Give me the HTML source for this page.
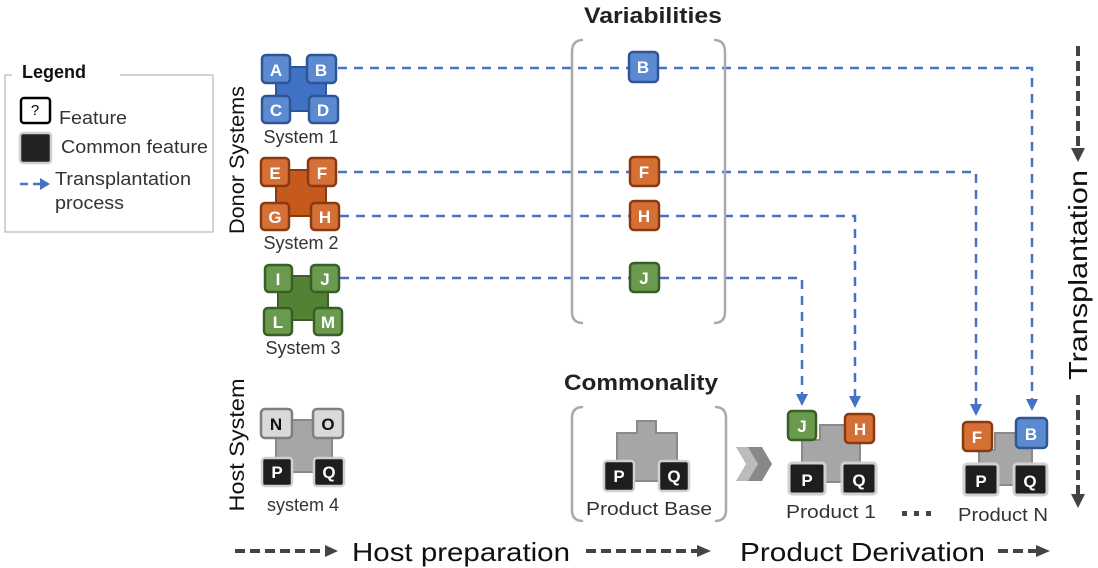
<!DOCTYPE html>
<html><head><meta charset="utf-8"><style>
html,body{margin:0;padding:0;background:#fff;}
svg{display:block;font-family:"Liberation Sans",sans-serif;}
.t{font-weight:bold;fill:#fff;font-size:17px;text-anchor:middle;}
.lb{font-size:18px;fill:#333;text-anchor:middle;}
</style></head><body>
<svg width="1098" height="568" viewBox="0 0 1098 568" xmlns="http://www.w3.org/2000/svg">
<defs>
<marker id="ab" markerWidth="12" markerHeight="12" refX="6" refY="6" orient="auto" markerUnits="userSpaceOnUse"><path d="M0,0 L12,6 L0,12 z" fill="#4472c4"/></marker>
</defs>

<!-- Legend -->
<rect x="5" y="75" width="208" height="157" fill="#fff" stroke="#aaa" stroke-width="1"/>
<rect x="12" y="62" width="108" height="22" fill="#fff"/>
<text x="22" y="78" font-size="18" font-weight="bold" fill="#111">Legend</text>
<rect x="21" y="98" width="29" height="25" rx="3" fill="#fff" stroke="#000" stroke-width="2.5"/>
<text x="35" y="115" font-size="15" text-anchor="middle" fill="#000">?</text>
<text x="59" y="124" font-size="18" fill="#333" textLength="68" lengthAdjust="spacingAndGlyphs">Feature</text>
<rect x="20" y="133" width="31" height="30" rx="3" fill="#222" stroke="#d0d0d0" stroke-width="2.5"/>
<text x="61" y="153" font-size="18" fill="#333" textLength="147" lengthAdjust="spacingAndGlyphs">Common feature</text>
<line x1="20" y1="184" x2="40" y2="184" stroke="#4472c4" stroke-width="2.5" stroke-dasharray="8,5"/>
<path d="M40,178 L50,184 L40,190 z" fill="#4472c4"/>
<text x="55" y="185" font-size="18" fill="#333" textLength="136" lengthAdjust="spacingAndGlyphs">Transplantation</text>
<text x="55" y="209" font-size="18" fill="#333" textLength="69" lengthAdjust="spacingAndGlyphs">process</text>

<!-- vertical labels -->
<text transform="translate(244,160) rotate(-90)" font-size="21" text-anchor="middle" fill="#111" textLength="148" lengthAdjust="spacingAndGlyphs">Donor Systems</text>
<text transform="translate(244,445) rotate(-90)" font-size="21" text-anchor="middle" fill="#111" textLength="133" lengthAdjust="spacingAndGlyphs">Host System</text>
<text transform="translate(1087,275) rotate(-90)" font-size="26" text-anchor="middle" fill="#111" textLength="210" lengthAdjust="spacingAndGlyphs">Transplantation</text>
<line x1="1078" y1="46" x2="1078" y2="148" stroke="#444" stroke-width="4" stroke-dasharray="10,5"/>
<path d="M1071,148 L1085,148 L1078,162 z" fill="#444"/>
<line x1="1078" y1="395" x2="1078" y2="494" stroke="#444" stroke-width="4" stroke-dasharray="10,5"/>
<path d="M1071,494 L1085,494 L1078,508 z" fill="#444"/>

<!-- dashed transplant lines -->
<g stroke="#4472c4" stroke-width="2.5" stroke-dasharray="9,7" fill="none">
<path d="M338,68 H1032 V405" marker-end="url(#ab)"/>
<path d="M338,172 H976 V410" marker-end="url(#ab)"/>
<path d="M340,216 H855 V402" marker-end="url(#ab)"/>
<path d="M340,278 H802 V400" marker-end="url(#ab)"/>
</g>

<!-- System 1 -->
<rect x="276" y="67" width="50" height="44" fill="#3f72c4" stroke="#2f5597" stroke-width="2"/>
<g fill="#5b8ad0" stroke="#2f5597" stroke-width="2.5">
<rect x="262" y="55" width="28" height="28" rx="4"/><rect x="307" y="55" width="29" height="28" rx="4"/>
<rect x="262" y="96" width="28" height="27" rx="4"/><rect x="309" y="96" width="29" height="27" rx="4"/></g>
<text class="t" x="276" y="76">A</text><text class="t" x="321" y="76">B</text>
<text class="t" x="276" y="116">C</text><text class="t" x="323" y="116">D</text>
<text class="lb" x="301" y="143">System 1</text>

<!-- System 2 -->
<rect x="276" y="170" width="50" height="46" fill="#c55a1c" stroke="#8a3a10" stroke-width="2"/>
<g fill="#d46f36" stroke="#8a3a10" stroke-width="2.5">
<rect x="261" y="158" width="28" height="28" rx="4"/><rect x="308" y="158" width="28" height="28" rx="4"/>
<rect x="261" y="203" width="28" height="27" rx="4"/><rect x="311" y="203" width="28" height="27" rx="4"/></g>
<text class="t" x="275" y="179">E</text><text class="t" x="322" y="179">F</text>
<text class="t" x="275" y="223">G</text><text class="t" x="325" y="223">H</text>
<text class="lb" x="301" y="249">System 2</text>

<!-- System 3 -->
<rect x="278" y="276" width="50" height="44" fill="#548235" stroke="#3b5e28" stroke-width="2"/>
<g fill="#6a9a4e" stroke="#3b5e28" stroke-width="2.5">
<rect x="265" y="265" width="27" height="27" rx="4"/><rect x="311" y="265" width="28" height="27" rx="4"/>
<rect x="264" y="308" width="28" height="27" rx="4"/><rect x="314" y="308" width="28" height="27" rx="4"/></g>
<text class="t" x="278" y="285">I</text><text class="t" x="325" y="285">J</text>
<text class="t" x="278" y="328">L</text><text class="t" x="328" y="328">M</text>
<text class="lb" x="303" y="354">System 3</text>

<!-- System 4 -->
<rect x="276" y="420" width="56" height="52" fill="#a6a6a6" stroke="#8a8a8a" stroke-width="2"/>
<g fill="#d9d9d9" stroke="#7f7f7f" stroke-width="2.5">
<rect x="261" y="409" width="31" height="29" rx="4"/><rect x="313" y="409" width="30" height="29" rx="4"/></g>
<g fill="#1e1e1e" stroke="#d0d0d0" stroke-width="2.5">
<rect x="262" y="458" width="30" height="28" rx="3"/><rect x="314" y="458" width="30" height="28" rx="3"/></g>
<text class="t" x="276" y="430" style="fill:#111">N</text><text class="t" x="328" y="430" style="fill:#111">O</text>
<text class="t" x="277" y="478">P</text><text class="t" x="329" y="478">Q</text>
<text class="lb" x="303" y="511">system 4</text>

<!-- Variabilities -->
<text x="653" y="23" font-size="22" font-weight="bold" text-anchor="middle" fill="#222" textLength="138" lengthAdjust="spacingAndGlyphs">Variabilities</text>
<path d="M583,40 Q572,40 572,52 V312 Q572,323 583,323" fill="none" stroke="#aaa" stroke-width="2.5"/>
<path d="M714,40 Q725,40 725,52 V312 Q725,323 714,323" fill="none" stroke="#aaa" stroke-width="2.5"/>
<rect x="629" y="52" width="29" height="30" rx="4" fill="#5b8ad0" stroke="#2f5597" stroke-width="2.5"/>
<rect x="630" y="157" width="29" height="29" rx="4" fill="#d46f36" stroke="#8a3a10" stroke-width="2.5"/>
<rect x="630" y="201" width="29" height="29" rx="4" fill="#d46f36" stroke="#8a3a10" stroke-width="2.5"/>
<rect x="630" y="263" width="29" height="29" rx="4" fill="#6a9a4e" stroke="#3b5e28" stroke-width="2.5"/>
<text class="t" x="643" y="73">B</text><text class="t" x="644" y="178">F</text>
<text class="t" x="644" y="222">H</text><text class="t" x="644" y="284">J</text>

<!-- Commonality -->
<text x="641" y="390" font-size="22" font-weight="bold" text-anchor="middle" fill="#222" textLength="154" lengthAdjust="spacingAndGlyphs">Commonality</text>
<path d="M583,407 Q572,407 572,418 V510 Q572,521 583,521" fill="none" stroke="#aaa" stroke-width="2.5"/>
<path d="M715,407 Q726,407 726,418 V510 Q726,521 715,521" fill="none" stroke="#aaa" stroke-width="2.5"/>
<path d="M637,421 H656 V433 H677 V481 H617 V433 H637 z" fill="#a6a6a6" stroke="#8a8a8a" stroke-width="2"/>
<g fill="#1e1e1e" stroke="#d0d0d0" stroke-width="2.5">
<rect x="604" y="461" width="30" height="30" rx="3"/><rect x="659" y="461" width="30" height="30" rx="3"/></g>
<text class="t" x="619" y="482">P</text><text class="t" x="674" y="482">Q</text>
<text class="lb" x="649" y="515" textLength="126" lengthAdjust="spacingAndGlyphs">Product Base</text>

<!-- chevrons -->
<path d="M736,447 H750 L760,464 L750,481 H736 L746,464 z" fill="#bbb"/>
<path d="M748,447 H762 L772,464 L762,481 H748 L758,464 z" fill="#888"/>

<!-- Product 1 -->
<path d="M820,425 H860 V482 H802 V440 H820 z" fill="#a6a6a6" stroke="#8a8a8a" stroke-width="2"/>
<rect x="788" y="411" width="28" height="29" rx="4" fill="#6a9a4e" stroke="#3b5e28" stroke-width="2.5"/>
<rect x="845" y="414" width="29" height="29" rx="4" fill="#d46f36" stroke="#8a3a10" stroke-width="2.5"/>
<g fill="#1e1e1e" stroke="#d0d0d0" stroke-width="3">
<rect x="789" y="463" width="36" height="31" rx="3"/><rect x="842" y="463" width="34" height="31" rx="3"/></g>
<text class="t" x="802" y="432">J</text><text class="t" x="860" y="435">H</text>
<text class="t" x="807" y="486">P</text><text class="t" x="859" y="486">Q</text>
<text class="lb" x="831" y="518" textLength="90" lengthAdjust="spacingAndGlyphs">Product 1</text>
<g fill="#444"><rect x="902" y="511" width="5" height="5"/><rect x="914" y="511" width="5" height="5"/><rect x="926" y="511" width="5" height="5"/></g>

<!-- Product N -->
<path d="M995,433 H1032 V485 H979 V450 H995 z" fill="#a6a6a6" stroke="#8a8a8a" stroke-width="2"/>
<rect x="963" y="422" width="29" height="29" rx="4" fill="#d46f36" stroke="#8a3a10" stroke-width="2.5"/>
<rect x="1016" y="418" width="31" height="30" rx="4" fill="#5b8ad0" stroke="#2f5597" stroke-width="2.5"/>
<g fill="#1e1e1e" stroke="#d0d0d0" stroke-width="3">
<rect x="964" y="464" width="34" height="31" rx="3"/><rect x="1014" y="464" width="33" height="31" rx="3"/></g>
<text class="t" x="977" y="443">F</text><text class="t" x="1031" y="440">B</text>
<text class="t" x="981" y="487">P</text><text class="t" x="1030" y="487">Q</text>
<text class="lb" x="1003" y="521" textLength="90" lengthAdjust="spacingAndGlyphs">Product N</text>

<!-- bottom -->
<line x1="235" y1="551" x2="325" y2="551" stroke="#444" stroke-width="4" stroke-dasharray="10,5"/>
<path d="M325,545 L338,551 L325,557 z" fill="#444"/>
<text x="352" y="561" font-size="26" fill="#111" textLength="218" lengthAdjust="spacingAndGlyphs">Host preparation</text>
<line x1="586" y1="551" x2="697" y2="551" stroke="#444" stroke-width="4" stroke-dasharray="10,5"/>
<path d="M697,545 L711,551 L697,557 z" fill="#444"/>
<text x="740" y="561" font-size="26" fill="#111" textLength="245" lengthAdjust="spacingAndGlyphs">Product Derivation</text>
<line x1="998" y1="551" x2="1036" y2="551" stroke="#444" stroke-width="4" stroke-dasharray="10,5"/>
<path d="M1036,545 L1050,551 L1036,557 z" fill="#444"/>
</svg>
</body></html>
